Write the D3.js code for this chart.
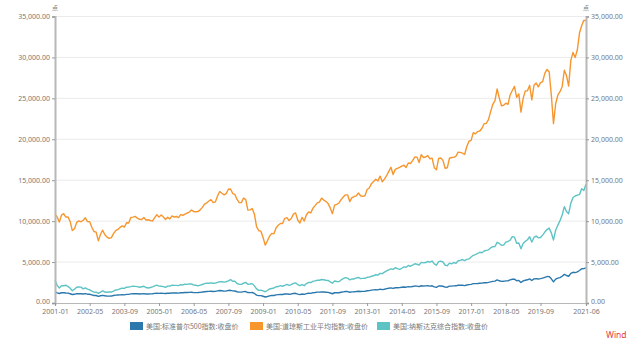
<!DOCTYPE html>
<html><head><meta charset="utf-8">
<script src="https://cdn.jsdelivr.net/npm/d3@7/dist/d3.min.js"></script>
<style>body{margin:0;background:#fff}svg{display:block}text{font-family:"Noto Sans CJK SC","Noto Sans",sans-serif}</style>
</head><body><svg id="c" width="641" height="346"></svg>
<script>
const startYear = 2001;
const tickLabels = ["2001-01","2002-05","2003-09","2005-01","2006-05","2007-09","2009-01","2010-05","2011-09","2013-01","2014-05","2015-09","2017-01","2018-05","2019-09","2021-06"];
const yTicks = [0,5000,10000,15000,20000,25000,30000,35000];
const seriesNames = ["美国:标准普尔500指数:收盘价","美国:道琼斯工业平均指数:收盘价","美国:纳斯达克综合指数:收盘价"];
const seriesColors = ["#2b78ad","#f7962e","#5ec3c4"];
const sp500 = [1366,1240,1160,1249,1256,1224,1211,1134,1041,1060,1139,1148,
1130,1107,1147,1076,1067,990,912,916,815,886,936,880,
856,841,848,917,964,975,990,1008,996,1051,1058,1112,
1131,1145,1126,1107,1121,1141,1102,1104,1115,1130,1174,1212,
1181,1204,1181,1157,1192,1191,1234,1220,1229,1207,1249,1248,
1280,1281,1295,1311,1270,1270,1277,1304,1336,1378,1401,1418,
1438,1407,1421,1482,1531,1503,1455,1474,1527,1549,1481,1468,
1379,1331,1323,1386,1400,1280,1267,1283,1166,969,896,903,
826,735,798,873,919,919,987,1021,1057,1036,1096,1115,
1074,1104,1169,1187,1089,1031,1102,1049,1141,1183,1181,1258,
1286,1327,1326,1364,1345,1321,1292,1219,1131,1253,1247,1258,
1312,1366,1408,1398,1310,1362,1379,1407,1441,1412,1416,1426,
1498,1515,1569,1598,1631,1606,1686,1633,1682,1757,1806,1848,
1783,1859,1872,1884,1924,1960,1931,2003,1972,2018,2068,2059,
1995,2105,2068,2086,2107,2063,2104,1972,1920,2079,2080,2044,
1940,1932,2060,2065,2097,2099,2174,2171,2168,2126,2199,2239,
2279,2364,2363,2384,2412,2423,2470,2472,2519,2575,2648,2674,
2824,2714,2641,2648,2705,2718,2816,2902,2914,2711,2760,2507,
2704,2784,2834,2946,2752,2942,2980,2926,2977,3038,3141,3231,
3226,2954,2585,2912,3044,3100,3271,3500,3363,3270,3622,3756,
3714,3811,3973,4181,4204,4298];
const dow = [10887,10495,9879,10735,10912,10502,10523,9950,8848,9075,9852,10022,
9920,10106,10404,9946,9925,9243,8737,8664,7592,8397,8896,8342,
8054,7891,7992,8480,8850,8985,9234,9416,9275,9801,9782,10454,
10488,10584,10358,10226,10188,10435,10140,10174,10080,10027,10428,10783,
10490,10766,10504,10193,10467,10275,10641,10482,10569,10440,10806,10718,
10865,10993,11109,11367,11168,11150,11186,11381,11679,12081,12222,12463,
12622,12269,12354,13063,13628,13409,13212,13358,13896,13930,13372,13265,
12650,12266,12263,12820,12638,11350,11378,11544,10851,9325,8829,8776,
8001,7063,7609,8168,8500,8447,9172,9496,9712,9713,10345,10428,
10067,10325,10857,11009,10137,9774,10466,10015,10788,11118,11006,11578,
11892,12226,12320,12811,12570,12414,12143,11614,10913,11955,12046,12218,
12633,12952,13212,13214,12393,12880,13009,13091,13437,13096,13026,13104,
13861,14054,14579,14840,15116,14910,15500,14810,15130,15546,16086,16577,
15699,16322,16458,16581,16717,16827,16563,17098,17043,17391,17828,17823,
17165,18133,17776,17841,18011,17620,17690,16528,16285,17664,17720,17425,
16466,16517,17685,17774,17787,17930,18432,18401,18308,18142,19124,19763,
19864,20812,20663,20941,21009,21350,21891,21948,22405,23377,24272,24719,
26149,25029,24103,24163,24416,24271,25415,25965,26458,25116,25538,23327,
24999,25916,25929,26593,24815,26600,26864,26403,26917,27046,28051,28538,
28256,25409,21917,24346,25383,25813,26428,28430,27782,26502,29639,30606,
29983,30932,32982,33875,34529,34503];
const nasdaq = [2773,2152,1840,2116,2110,2161,2027,1805,1499,1690,1931,1950,
1934,1731,1845,1688,1616,1463,1328,1315,1172,1330,1479,1336,
1321,1338,1341,1464,1596,1623,1735,1810,1787,1932,1960,2003,
2066,2030,1994,1920,1987,2048,1887,1838,1897,1975,2097,2175,
2062,2052,1999,1922,2068,2057,2185,2152,2152,2120,2233,2205,
2306,2281,2340,2323,2179,2172,2091,2184,2258,2367,2432,2415,
2464,2416,2422,2525,2605,2603,2546,2596,2702,2859,2661,2652,
2390,2271,2279,2413,2523,2293,2326,2368,2092,1721,1536,1577,
1476,1378,1529,1717,1774,1835,1979,2009,2122,2045,2145,2269,
2147,2238,2398,2461,2257,2109,2255,2114,2369,2507,2498,2653,
2700,2782,2781,2874,2835,2774,2756,2579,2415,2684,2620,2605,
2814,2967,3092,3046,2827,2935,2940,3067,3116,2977,3010,3020,
3142,3160,3268,3329,3456,3403,3626,3590,3771,3920,4060,4177,
4104,4308,4199,4115,4243,4408,4370,4580,4493,4631,4792,4736,
4635,4964,4901,4941,5070,4987,5128,4777,4620,5054,5109,5007,
4614,4558,4870,4775,4948,4843,5162,5213,5312,5189,5324,5383,
5615,5825,5912,6048,6199,6140,6348,6429,6496,6728,6874,6903,
7411,7273,7063,7066,7442,7510,7672,8110,8046,7306,7331,6635,
7282,7533,7729,8095,7453,8006,8175,7963,7999,8292,8665,8973,
9151,8567,7700,8890,9490,10059,10745,11775,11168,10912,12199,12888,
13071,13192,13247,13962,13749,14504];

const months = sp500.map((_, i) => {
  const y = startYear + Math.floor(i / 12), m = (i % 12) + 1;
  return y + "-" + String(m).padStart(2, "0");
});
const series = [sp500, dow, nasdaq];

const svg = d3.select("#c");
const L = 55, R = 586, T = 16.5, B = 303;
const x = d3.scaleLinear().domain([0, months.length - 1]).range([L, R]);
const y = d3.scaleLinear().domain([0, 35000]).range([B, T]);
const fmt = d3.format(",.2f");
const gray = "#777";

svg.append("g").selectAll("line").data(yTicks.slice(1)).join("line")
  .attr("x1", L).attr("x2", R).attr("y1", d => y(d)).attr("y2", d => y(d))
  .attr("stroke", "#ebebeb").attr("stroke-width", 1);

const line = d3.line().x((d, i) => x(i)).y(d => y(d));
[2, 0, 1].forEach(k => {
  svg.append("path").datum(series[k]).attr("d", line)
    .attr("fill", "none").attr("stroke", seriesColors[k]).attr("stroke-width", 1.4)
    .attr("stroke-linejoin", "round");
});

const ya = d3.axisLeft(y).tickValues(yTicks).tickFormat(fmt).tickSize(3).tickPadding(2);
const gl = svg.append("g").attr("transform", `translate(${L},0)`).call(ya);
const yr = d3.axisRight(y).tickValues(yTicks).tickFormat(fmt).tickSize(3).tickPadding(2);
const gr = svg.append("g").attr("transform", `translate(${R},0)`).call(yr);
[gl, gr].forEach(g => {
  g.select(".domain").attr("stroke", "#b8b8b8").attr("stroke-width", 2);
  g.selectAll(".tick line").attr("stroke", "#999");
  g.selectAll(".tick text").attr("fill", gray).style("font-size", "7px")
    .style("font-family", "'Noto Sans','DejaVu Sans',sans-serif");
});
gl.selectAll(".tick text").filter(d => d === 0).attr("dy", "0.1em");
gr.selectAll(".tick text").filter(d => d === 0).attr("dy", "0.1em");

const tickIdx = tickLabels.map(l => months.indexOf(l));
const xa = d3.axisBottom(x).tickValues(tickIdx).tickFormat(i => months[i]).tickSize(3).tickPadding(3);
const gx = svg.append("g").attr("transform", `translate(0,${B})`).call(xa);
gx.select(".domain").attr("stroke", "#b8b8b8").attr("stroke-width", 1.2);
gx.selectAll(".tick line").attr("stroke", "#999");
gx.selectAll(".tick text").attr("fill", gray).style("font-size", "7px")
  .style("font-family", "'Noto Sans','DejaVu Sans',sans-serif");

[L, R].forEach(px => {
  svg.append("text").attr("x", px).attr("y", 10).attr("text-anchor", "middle")
    .attr("fill", gray).style("font-size", "6px").text("点");
});

const legX = [130, 250, 377];
seriesNames.forEach((n, k) => {
  svg.append("rect").attr("x", legX[k]).attr("y", 322).attr("width", 13).attr("height", 8)
    .attr("fill", seriesColors[k]);
  svg.append("text").attr("x", legX[k] + 16).attr("y", 329).attr("fill", gray)
    .style("font-size", "7px").text(n);
});

svg.append("text").attr("x", 606).attr("y", 338).attr("fill", "#e8383d")
  .style("font-size", "8.5px").style("font-family", "'Noto Sans',sans-serif").text("Wind");
</script></body></html>
